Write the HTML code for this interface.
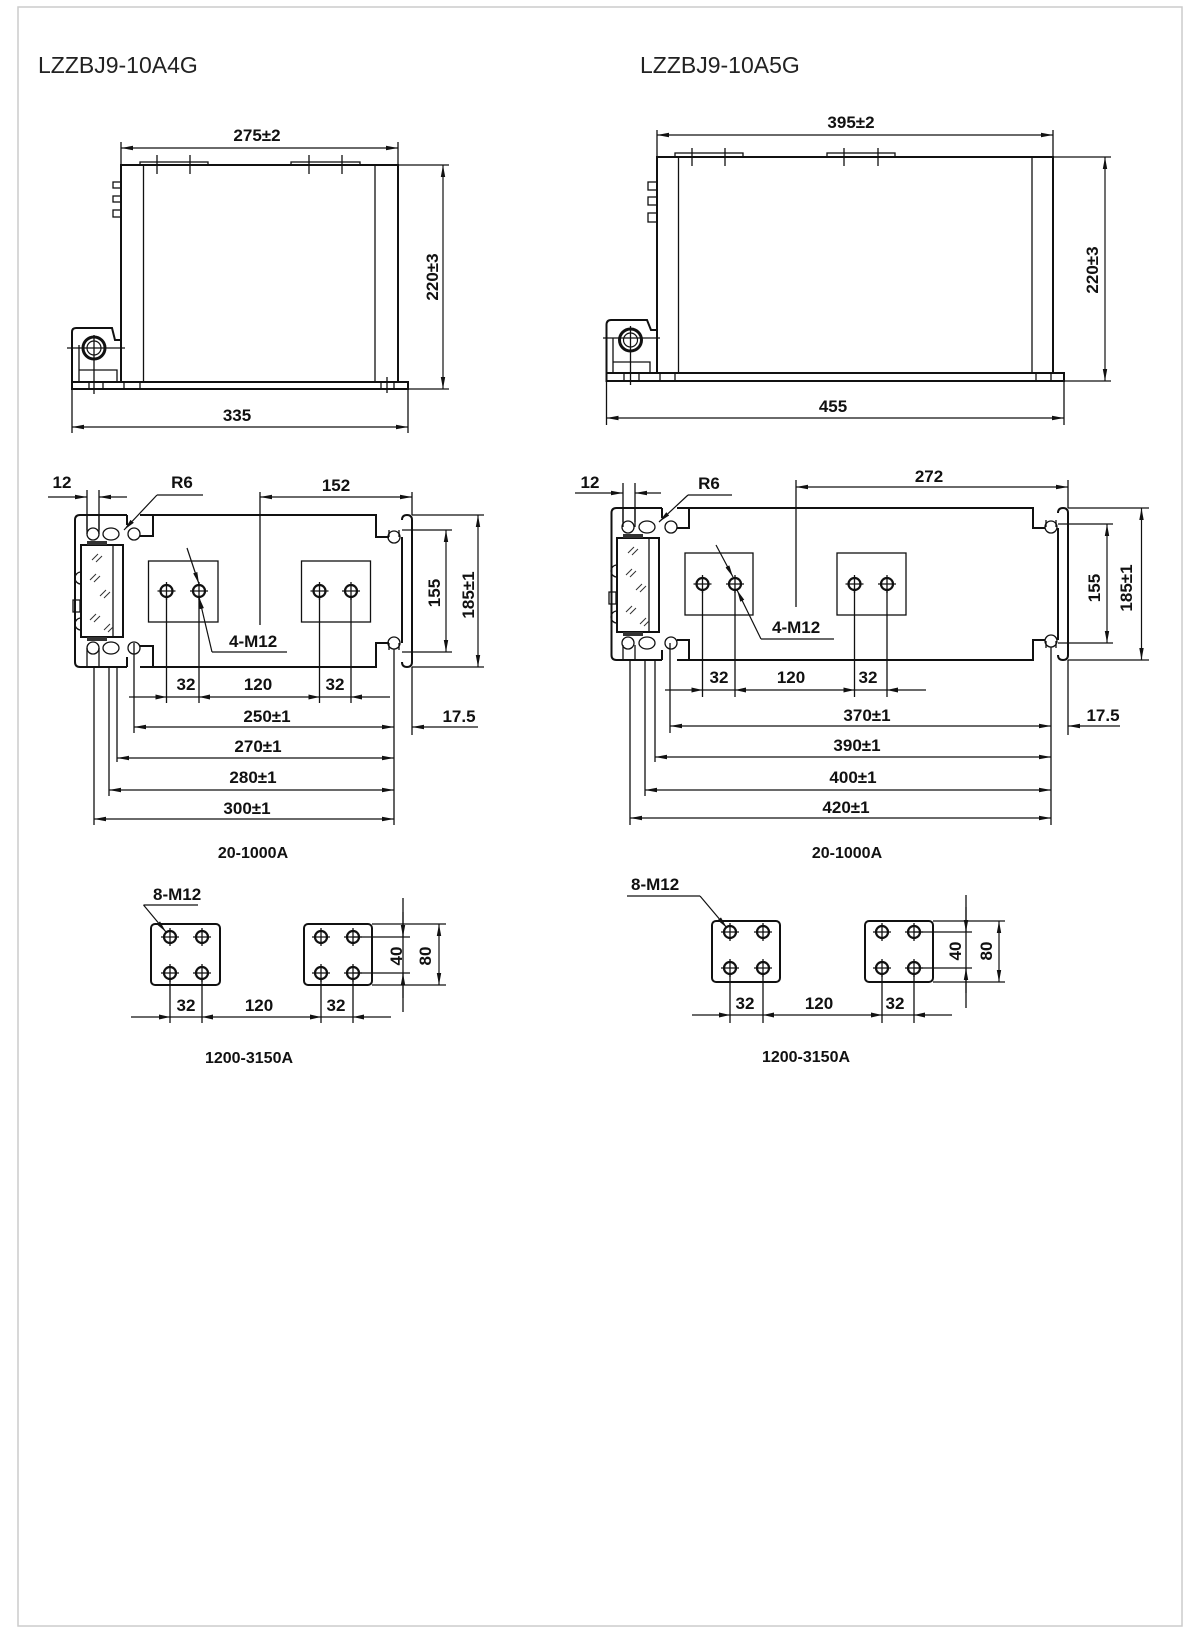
<!DOCTYPE html>
<html><head><meta charset="utf-8"><style>
html,body{margin:0;padding:0;background:#fff}
svg{display:block}
text{font-family:"Liberation Sans",Arial,sans-serif;fill:#111}
.b{font-weight:bold;font-size:17px}
.t{font-size:23px;fill:#222}
.l{stroke:#111;stroke-width:1.3;fill:none}
.k{stroke:#111;stroke-width:2;fill:none}
.d{stroke:#111;stroke-width:1.2;fill:none;marker-start:url(#m);marker-end:url(#m)}
.e{stroke:#111;stroke-width:1.2;fill:none;marker-end:url(#m)}
.h{stroke:#333;stroke-width:1;fill:none}
</style></head><body>
<svg width="1200" height="1640" viewBox="0 0 1200 1640" xmlns="http://www.w3.org/2000/svg">
<defs>
<marker id="m" viewBox="0 0 12 6" refX="12" refY="3" markerWidth="12" markerHeight="6" markerUnits="userSpaceOnUse" orient="auto-start-reverse"><path d="M0,0.8 L12,3 L0,5.2z" fill="#111"/></marker>
<g id="bolt"><circle cx="0" cy="0" r="6" fill="none" stroke="#111" stroke-width="2.2"/><path d="M-9,0H9M0,-9V9" stroke="#111" stroke-width="1.3"/></g>
</defs>
<rect x="18" y="7" width="1164" height="1619" fill="none" stroke="#ccc" stroke-width="1.5"/>

<text class="t" x="38" y="73">LZZBJ9-10A4G</text>
<text class="t" x="640" y="73">LZZBJ9-10A5G</text>

<!-- ===== LEFT TOP VIEW ===== -->
<rect class="k" x="121" y="165" width="277" height="217"/>
<path class="l" d="M143.5,165V382M375,165V382"/>
<rect class="k" x="72" y="382" width="336" height="7"/>
<path class="l" d="M89,382V389M103,382V389M124,382V389M140,382V389M381,382V389M394,382V389"/>
<rect class="l" x="140" y="162" width="68" height="3"/><rect class="l" x="291" y="162" width="69" height="3"/>
<path class="l" d="M157,155V174M190,155V174M309,155V174M342,155V174"/>
<rect class="l" x="113" y="182" width="8" height="6"/><rect class="l" x="113" y="196" width="8" height="6"/><rect class="l" x="113" y="210" width="8" height="7"/>
<path class="k" d="M121,340L115,340L112,328L76,328Q72,328 72,332L72,382"/>
<path class="l" d="M79,345V382M79,370H117V382"/>
<circle cx="94" cy="348" r="11" fill="none" stroke="#111" stroke-width="3"/>
<circle cx="94" cy="348" r="7" fill="none" stroke="#111" stroke-width="1.2"/>
<path class="l" d="M67,348H125M94,335V394M387,377V393"/>
<path class="l" d="M121,142V165M398,142V165"/>
<line class="d" x1="121" y1="148" x2="398" y2="148"/>
<text class="b" x="257" y="141" text-anchor="middle">275±2</text>
<path class="l" d="M398,165H449M408,389H449"/>
<line class="d" x1="443" y1="165" x2="443" y2="389"/>
<text class="b" transform="translate(438,277) rotate(-90)" text-anchor="middle">220±3</text>
<path class="l" d="M72,389V433M408,389V433"/>
<line class="d" x1="72" y1="427" x2="408" y2="427"/>
<text class="b" x="237" y="421" text-anchor="middle">335</text>

<!-- ===== RIGHT TOP VIEW ===== -->
<rect class="k" x="657" y="157" width="396" height="216"/>
<path class="l" d="M678.5,157V373M1032,157V373"/>
<rect class="k" x="606.5" y="373" width="457.5" height="8"/>
<path class="l" d="M624,373V381M639,373V381M660,373V381M675,373V381M1036,373V381M1051,373V381"/>
<rect class="l" x="675" y="153" width="68" height="4"/><rect class="l" x="827" y="153" width="68" height="4"/>
<path class="l" d="M692,148V166M725,148V166M844,148V166M878,148V166"/>
<rect class="l" x="648" y="182" width="9" height="8"/><rect class="l" x="648" y="197" width="9" height="8"/><rect class="l" x="648" y="213" width="9" height="9"/>
<path class="k" d="M657,330L651,330L647,320L611,320Q606.5,320 606.5,325L606.5,373"/>
<path class="l" d="M613,338V373M613,362H650V373"/>
<circle cx="630.5" cy="340" r="11" fill="none" stroke="#111" stroke-width="3"/>
<circle cx="630.5" cy="340" r="7" fill="none" stroke="#111" stroke-width="1.2"/>
<path class="l" d="M603,338H660M630.5,326V385"/>
<path class="l" d="M657,130V157M1053,130V157"/>
<line class="d" x1="657" y1="135" x2="1053" y2="135"/>
<text class="b" x="851" y="128" text-anchor="middle">395±2</text>
<path class="l" d="M1053,157H1111M1064,381H1111"/>
<line class="d" x1="1105" y1="157" x2="1105" y2="381"/>
<text class="b" transform="translate(1098,270) rotate(-90)" text-anchor="middle">220±3</text>
<path class="l" d="M606.5,381V425M1064,381V425"/>
<line class="d" x1="606.5" y1="418" x2="1064" y2="418"/>
<text class="b" x="833" y="412" text-anchor="middle">455</text>

<!-- ===== LEFT PLAN VIEW ===== -->
<path class="k" d="M80,515H127M80,667H127M75,520V662M80,515Q75,515 75,520M80,667Q75,667 75,662"/>
<path class="k" d="M127,515V525M127,657V667"/>
<path class="k" d="M140,515H153V536H140M140,667H153V646H140M153,515H376V537H389M153,667H376V643H389M402,537V643M402,520Q402,515 407,515Q412,515 412,520V662Q412,667 407,667Q402,667 402,662"/>
<path class="l" d="M87,515V534M99,515V534M87,667V648M99,667V648"/>
<circle class="l" cx="93" cy="534" r="6"/><ellipse class="l" cx="111" cy="534" rx="8" ry="6"/><circle class="l" cx="134" cy="534" r="6"/>
<circle class="l" cx="93" cy="648" r="6"/><ellipse class="l" cx="111" cy="648" rx="8" ry="6"/><circle class="l" cx="134" cy="648" r="6"/>
<circle class="l" cx="394" cy="537" r="6"/><circle class="l" cx="394" cy="643" r="6"/>
<path class="l" d="M389,530V537M399,530V537M389,650V643M399,650V643"/>
<rect class="k" x="81" y="545" width="42" height="92"/>
<path class="l" d="M113,545V637"/>
<rect x="87" y="541" width="20" height="4" fill="#333"/><rect x="87" y="637" width="20" height="4" fill="#333"/>
<path class="h" d="M92,560l6,-6M96,562l6,-6M90,580l6,-6M94,582l6,-6M100,596l6,-6M104,598l6,-6M90,620l6,-6M94,622l6,-6M104,630l6,-6M108,632l5,-5"/>
<path class="l" d="M81,572a6,6 0 0,0 0,12M81,618a6,6 0 0,0 0,12M73,600h7v12h-7z"/>
<rect class="l" x="148.5" y="561" width="69.5" height="61"/>
<rect class="l" x="301.5" y="561" width="69" height="61"/>
<use href="#bolt" x="166.5" y="591"/><use href="#bolt" x="199" y="591"/><use href="#bolt" x="319.5" y="591"/><use href="#bolt" x="351" y="591"/>
<!-- leaders -->
<text class="b" x="62" y="488" text-anchor="middle">12</text>
<path class="l" d="M87,490V530M99,490V530"/>
<line class="e" x1="48" y1="497" x2="87" y2="497"/><line class="e" x1="127" y1="497" x2="99" y2="497"/>
<text class="b" x="182" y="488" text-anchor="middle">R6</text>
<path class="l" d="M203,495H157"/><line class="e" x1="157" y1="495" x2="124" y2="530"/>
<path class="l" d="M260,492V625M412,492V515"/>
<line class="d" x1="260" y1="497" x2="412" y2="497"/>
<text class="b" x="336" y="491" text-anchor="middle">152</text>
<line class="e" x1="187" y1="548" x2="199" y2="584"/>
<path class="l" d="M287,652H212"/><line class="e" x1="212" y1="652" x2="199" y2="597"/>
<text class="b" x="229" y="647">4-M12</text>
<path class="l" d="M402,530H452M402,652H452M412,515H484M412,667H484"/>
<line class="d" x1="446" y1="530" x2="446" y2="652"/>
<text class="b" transform="translate(440,593) rotate(-90)" text-anchor="middle">155</text>
<line class="d" x1="478" y1="515" x2="478" y2="667"/>
<text class="b" transform="translate(474,595) rotate(-90)" text-anchor="middle">185±1</text>
<path class="l" d="M166.5,597V703M199,597V703M319.5,597V703M351,597V703"/>
<path class="l" d="M129,697H390"/>
<path d="M166.5,697l-11,-2.5v5zM199,697l11,-2.5v5zM319.5,697l-11,-2.5v5zM351,697l11,-2.5v5z" fill="#111"/>
<text class="b" x="186" y="690" text-anchor="middle">32</text>
<text class="b" x="258" y="690" text-anchor="middle">120</text>
<text class="b" x="335" y="690" text-anchor="middle">32</text>
<path class="l" d="M134,643V733M117,667V762M109,667V796M94,667V825M394,649V825M412,667V735"/>
<line class="d" x1="134" y1="727" x2="394" y2="727"/>
<text class="b" x="267" y="722" text-anchor="middle">250±1</text>
<line class="e" x1="478" y1="727" x2="412" y2="727"/>
<text class="b" x="459" y="722" text-anchor="middle">17.5</text>
<line class="d" x1="117" y1="758" x2="394" y2="758"/>
<text class="b" x="258" y="752" text-anchor="middle">270±1</text>
<line class="d" x1="109" y1="790" x2="394" y2="790"/>
<text class="b" x="253" y="783" text-anchor="middle">280±1</text>
<line class="d" x1="94" y1="819" x2="394" y2="819"/>
<text class="b" x="247" y="814" text-anchor="middle">300±1</text>
<text class="b" x="253" y="858" text-anchor="middle" style="font-size:16px">20-1000A</text>

<!-- ===== RIGHT PLAN VIEW ===== -->
<path class="k" d="M616.5,508H662M616.5,660H662M611.5,513V655M616.5,508Q611.5,508 611.5,513M616.5,660Q611.5,660 611.5,655"/>
<path class="k" d="M662,508V518M662,650V660"/>
<path class="k" d="M677,508H689V528H677M677,660H689V640H677M689,508H1033V528H1045M689,660H1033V640H1045M1058,528V640M1058,513Q1058,508 1063,508Q1068,508 1068,513V655Q1068,660 1063,660Q1058,660 1058,655"/>
<path class="l" d="M623,508V527M635,508V527M623,660V645M635,660V645"/>
<circle class="l" cx="628" cy="527" r="6"/><ellipse class="l" cx="647" cy="527" rx="8" ry="6"/><circle class="l" cx="671" cy="527" r="6"/>
<circle class="l" cx="628" cy="643" r="6"/><ellipse class="l" cx="647" cy="643" rx="8" ry="6"/><circle class="l" cx="671" cy="643" r="6"/>
<circle class="l" cx="1051" cy="527" r="6"/><circle class="l" cx="1051" cy="641" r="6"/>
<path class="l" d="M1046,520V527M1056,520V527M1046,648V641M1056,648V641"/>
<rect class="k" x="617" y="538" width="42" height="94"/>
<path class="l" d="M649,538V632"/>
<rect x="623" y="534" width="20" height="4" fill="#333"/><rect x="623" y="632" width="20" height="4" fill="#333"/>
<path class="h" d="M628,553l6,-6M632,555l6,-6M626,575l6,-6M630,577l6,-6M636,590l6,-6M640,592l6,-6M626,612l6,-6M630,614l6,-6M640,624l6,-6M644,626l5,-5"/>
<path class="l" d="M617,565a6,6 0 0,0 0,12M617,611a6,6 0 0,0 0,12M609,592h7v12h-7z"/>
<rect class="l" x="685" y="553" width="68" height="62"/>
<rect class="l" x="837" y="553" width="69" height="62"/>
<use href="#bolt" x="702.5" y="584"/><use href="#bolt" x="735" y="584"/><use href="#bolt" x="854.5" y="584"/><use href="#bolt" x="887" y="584"/>
<text class="b" x="590" y="488" text-anchor="middle">12</text>
<path class="l" d="M623,483V522M635,483V522"/>
<line class="e" x1="575" y1="493" x2="623" y2="493"/><line class="e" x1="661" y1="493" x2="635" y2="493"/>
<text class="b" x="709" y="489" text-anchor="middle">R6</text>
<path class="l" d="M732,495H688"/><line class="e" x1="688" y1="495" x2="659" y2="522"/>
<path class="l" d="M796,480V607M1068,480V508"/>
<line class="d" x1="796" y1="487" x2="1068" y2="487"/>
<text class="b" x="929" y="482" text-anchor="middle">272</text>
<line class="e" x1="716" y1="545" x2="733" y2="577"/>
<path class="l" d="M834,639H761"/><line class="e" x1="761" y1="639" x2="737" y2="590"/>
<text class="b" x="772" y="633">4-M12</text>
<path class="l" d="M1058,524H1113M1058,643H1113M1068,508H1149M1068,660H1149"/>
<line class="d" x1="1107" y1="524" x2="1107" y2="643"/>
<text class="b" transform="translate(1100,588) rotate(-90)" text-anchor="middle">155</text>
<line class="d" x1="1141.5" y1="508" x2="1141.5" y2="660"/>
<text class="b" transform="translate(1132,588) rotate(-90)" text-anchor="middle">185±1</text>
<path class="l" d="M702.5,590V697M735,590V697M854.5,590V697M887,590V697"/>
<path class="l" d="M665,690H926"/>
<path d="M702.5,690l-11,-2.5v5zM735,690l11,-2.5v5zM854.5,690l-11,-2.5v5zM887,690l11,-2.5v5z" fill="#111"/>
<text class="b" x="719" y="683" text-anchor="middle">32</text>
<text class="b" x="791" y="683" text-anchor="middle">120</text>
<text class="b" x="868" y="683" text-anchor="middle">32</text>
<path class="l" d="M670,643V733M655,660V762M645,660V796M630,660V825M1051,647V825M1068,660V735"/>
<line class="d" x1="670" y1="726" x2="1051" y2="726"/>
<text class="b" x="867" y="721" text-anchor="middle">370±1</text>
<line class="e" x1="1120" y1="726" x2="1068" y2="726"/>
<text class="b" x="1103" y="721" text-anchor="middle">17.5</text>
<line class="d" x1="655" y1="757" x2="1051" y2="757"/>
<text class="b" x="857" y="751" text-anchor="middle">390±1</text>
<line class="d" x1="645" y1="790" x2="1051" y2="790"/>
<text class="b" x="853" y="783" text-anchor="middle">400±1</text>
<line class="d" x1="630" y1="818" x2="1051" y2="818"/>
<text class="b" x="846" y="813" text-anchor="middle">420±1</text>
<text class="b" x="847" y="858" text-anchor="middle" style="font-size:16px">20-1000A</text>

<!-- ===== LEFT BOTTOM 1200-3150A ===== -->
<text class="b" x="153" y="900">8-M12</text>
<path class="l" d="M198,905H143.5"/><line class="e" x1="143.5" y1="905" x2="166" y2="932"/>
<rect class="k" x="151" y="924" width="69" height="61" rx="4"/>
<rect class="k" x="304" y="924" width="68" height="61" rx="4"/>
<use href="#bolt" x="170" y="937"/><use href="#bolt" x="202" y="937"/><use href="#bolt" x="170" y="973"/><use href="#bolt" x="202" y="973"/>
<use href="#bolt" x="321" y="937"/><use href="#bolt" x="353" y="937"/><use href="#bolt" x="321" y="973"/><use href="#bolt" x="353" y="973"/>
<path class="l" d="M353,937H410M353,973H410M372,924H446M372,985H446"/>
<path class="l" d="M403,898V1012"/>
<line class="e" x1="403" y1="912" x2="403" y2="937"/><line class="e" x1="403" y1="998" x2="403" y2="973"/>
<text class="b" transform="translate(402,956) rotate(-90)" text-anchor="middle">40</text>
<line class="d" x1="439" y1="924" x2="439" y2="985"/>
<text class="b" transform="translate(431,956) rotate(-90)" text-anchor="middle">80</text>
<path class="l" d="M170,979V1023M202,979V1023M321,979V1023M353,979V1023M131,1017H391"/>
<path d="M170,1017l-11,-2.5v5zM202,1017l11,-2.5v5zM321,1017l-11,-2.5v5zM353,1017l11,-2.5v5z" fill="#111"/>
<text class="b" x="186" y="1011" text-anchor="middle">32</text>
<text class="b" x="259" y="1011" text-anchor="middle">120</text>
<text class="b" x="336" y="1011" text-anchor="middle">32</text>
<text class="b" x="249" y="1063" text-anchor="middle" style="font-size:16px">1200-3150A</text>

<!-- ===== RIGHT BOTTOM 1200-3150A ===== -->
<text class="b" x="631" y="890">8-M12</text>
<path class="l" d="M700,896H627"/><line class="e" x1="700" y1="896" x2="727" y2="928"/>
<rect class="k" x="712" y="921" width="68" height="61" rx="4"/>
<rect class="k" x="865" y="921" width="68" height="61" rx="4"/>
<use href="#bolt" x="730" y="932"/><use href="#bolt" x="763" y="932"/><use href="#bolt" x="730" y="968"/><use href="#bolt" x="763" y="968"/>
<use href="#bolt" x="882" y="932"/><use href="#bolt" x="914" y="932"/><use href="#bolt" x="882" y="968"/><use href="#bolt" x="914" y="968"/>
<path class="l" d="M914,932H972M914,968H972M933,921H1005M933,982H1005"/>
<path class="l" d="M966,895V1008"/>
<line class="e" x1="966" y1="907" x2="966" y2="932"/><line class="e" x1="966" y1="993" x2="966" y2="968"/>
<text class="b" transform="translate(961,951) rotate(-90)" text-anchor="middle">40</text>
<line class="d" x1="999" y1="921" x2="999" y2="982"/>
<text class="b" transform="translate(992,951) rotate(-90)" text-anchor="middle">80</text>
<path class="l" d="M730,974V1023M763,974V1023M882,974V1023M914,974V1023M692,1015H952"/>
<path d="M730,1015l-11,-2.5v5zM763,1015l11,-2.5v5zM882,1015l-11,-2.5v5zM914,1015l11,-2.5v5z" fill="#111"/>
<text class="b" x="745" y="1009" text-anchor="middle">32</text>
<text class="b" x="819" y="1009" text-anchor="middle">120</text>
<text class="b" x="895" y="1009" text-anchor="middle">32</text>
<text class="b" x="806" y="1062" text-anchor="middle" style="font-size:16px">1200-3150A</text>
</svg>
</body></html>
